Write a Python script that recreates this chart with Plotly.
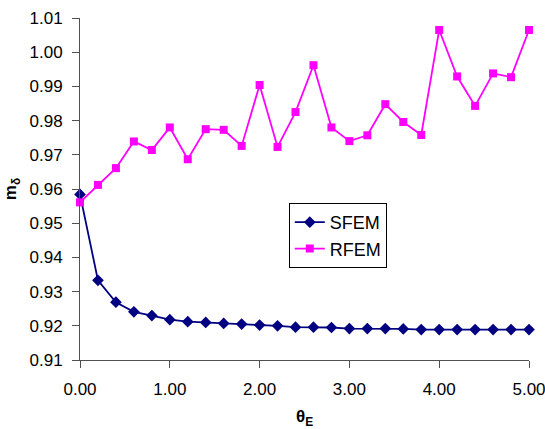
import plotly.graph_objects as go

theta = [0.0, 0.2, 0.4, 0.6, 0.8, 1.0, 1.2, 1.4, 1.6, 1.8, 2.0, 2.2, 2.4,
         2.6, 2.8, 3.0, 3.2, 3.4, 3.6, 3.8, 4.0, 4.2, 4.4, 4.6, 4.8, 5.0]

sfem = [0.9584, 0.9333, 0.9269, 0.9241, 0.9230, 0.9218, 0.9212, 0.9210,
        0.9207, 0.9205, 0.9202, 0.9200, 0.9196, 0.9196, 0.9195, 0.9192,
        0.9192, 0.9192, 0.9191, 0.9189, 0.9189, 0.9189, 0.9189, 0.9189,
        0.9189, 0.9189]

rfem = [0.9561, 0.9612, 0.9661, 0.9739, 0.9714, 0.9780, 0.9687, 0.9775,
        0.9773, 0.9726, 0.9904, 0.9723, 0.9825, 0.9962, 0.9780, 0.9740,
        0.9757, 0.9848, 0.9796, 0.9758, 1.0065, 0.9929, 0.9843, 0.9938,
        0.9927, 1.0065]

x_ticks = [0, 1, 2, 3, 4, 5]
x_ticklabels = ["0.00", "1.00", "2.00", "3.00", "4.00", "5.00"]
y_ticks = [0.91, 0.92, 0.93, 0.94, 0.95, 0.96, 0.97, 0.98, 0.99, 1.00, 1.01]
y_ticklabels = ["0.91", "0.92", "0.93", "0.94", "0.95", "0.96", "0.97",
                "0.98", "0.99", "1.00", "1.01"]

FONT = "Liberation Sans, Arial, sans-serif"

fig = go.Figure()
fig.add_trace(go.Scatter(
    x=theta, y=sfem, name="SFEM", mode="lines+markers", legendgroup="a",
    line=dict(color="#000080", width=1.8),
    marker=dict(symbol="diamond", size=9, color="#000080"),
    cliponaxis=False,
))
fig.add_trace(go.Scatter(
    x=theta, y=rfem, name="RFEM", mode="lines+markers", legendgroup="b",
    line=dict(color="#FF00FF", width=1.8),
    marker=dict(symbol="square", size=8, color="#FF00FF"),
    cliponaxis=False,
))

axis_common = dict(
    showgrid=False, zeroline=False, showline=True, linecolor="#505050",
    linewidth=1, ticks="outside", ticklen=7, tickcolor="#505050",
    tickfont=dict(family=FONT, size=17, color="black"),
    ticklabeloverflow="allow", automargin=False,
)

fig.update_layout(
    width=545, height=429,
    margin=dict(l=80, r=16, t=18, b=69),
    paper_bgcolor="white", plot_bgcolor="white",
    font=dict(family=FONT, size=17, color="black"),
    xaxis=dict(range=[0, 5], tickvals=x_ticks, ticktext=x_ticklabels,
               ticklabelstandoff=7, **axis_common),
    yaxis=dict(range=[0.91, 1.01], tickvals=y_ticks, ticktext=y_ticklabels,
               ticklabelstandoff=6, **axis_common),
    legend=dict(x=0.465, y=0.459, xanchor="left", yanchor="top",
                bordercolor="black", borderwidth=1, bgcolor="white",
                font=dict(family=FONT, size=18), tracegroupgap=0,
                itemwidth=30),
    showlegend=True,
    annotations=[
        dict(text="<b>θ<sub>E</sub></b>", xref="paper", yref="paper",
             x=0.5, y=-0.131, xanchor="center", yanchor="top",
             showarrow=False, font=dict(family=FONT, size=17)),
        dict(text="<b>m<sub>δ</sub></b>", xref="paper", yref="paper",
             x=-0.151, y=0.5, xanchor="center", yanchor="middle",
             textangle=-90, showarrow=False,
             font=dict(family=FONT, size=17)),
    ],
)

fig.write_html("out.html")
